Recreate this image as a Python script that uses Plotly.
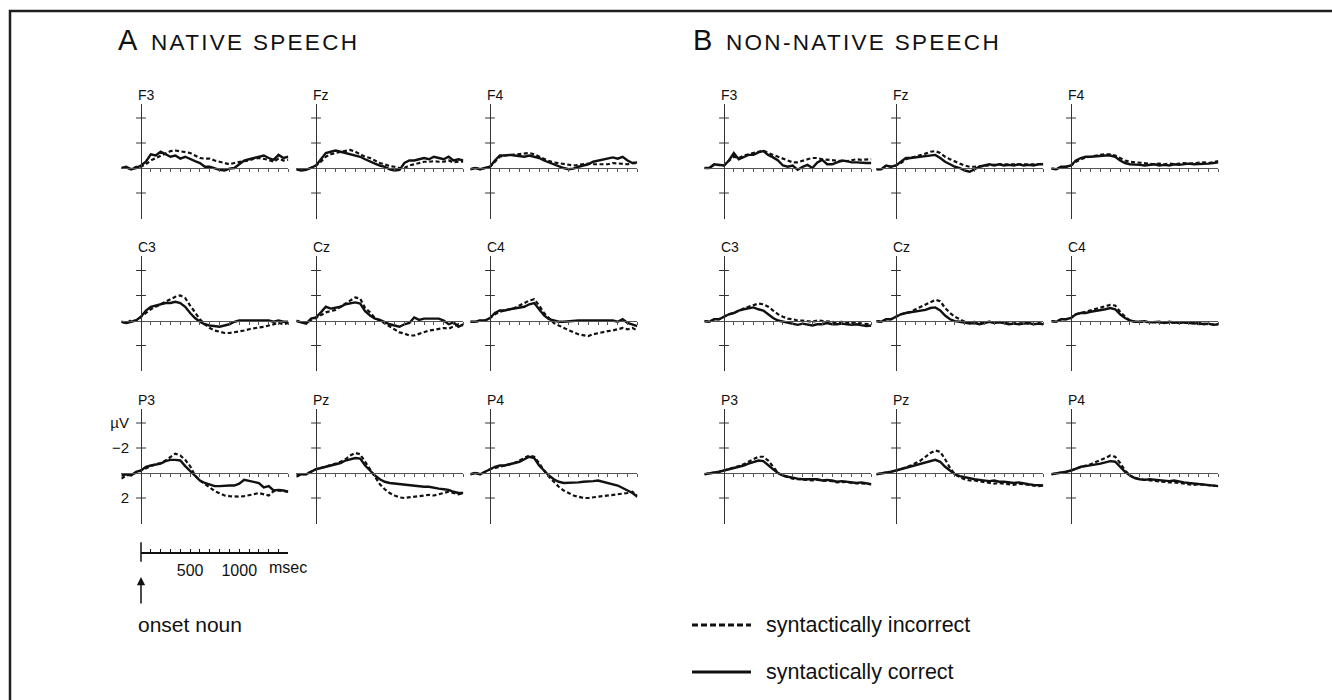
import plotly.graph_objects as go

# ---------------- data (µV, negative up) ----------------
TIME_MS = list(range(-200, 1501, 50))

ELECTRODES = [["F3", "Fz", "F4"], ["C3", "Cz", "C4"], ["P3", "Pz", "P4"]]
GROUP_TITLES = [("A", "NATIVE SPEECH"), ("B", "NON-NATIVE SPEECH")]
LEGEND_LABELS = ["syntactically incorrect", "syntactically correct"]
Y_TICKS = [-4, -2, 2]
Y_TICK_TEXT = ["µV", "−2", "2"]
X_TICKS = list(range(100, 1501, 100))
SCALE_TICKS = list(range(0, 1501, 100))
SCALE_LABELS = {500: "500", 1000: "1000"}

# native speech: correct (solid) / incorrect (dashed)
nat_F3_cor = [0, -0.1, 0.1, 0, -0.2, -0.5, -1.1, -1.0, -1.3, -1.1, -0.9, -1.0, -0.75, -0.9, -0.7, -0.55, -0.4, -0.1, -0.1, 0.05, 0.15, 0.2, 0.05, 0, -0.3, -0.6, -0.7, -0.8, -0.9, -1.0, -0.8, -0.65, -1.05, -0.8, -0.9]
nat_F3_inc = [0, 0, 0.1, -0.1, -0.1, -0.3, -0.6, -0.8, -1.0, -1.2, -1.35, -1.4, -1.35, -1.3, -1.2, -1.0, -0.8, -0.75, -0.75, -0.6, -0.5, -0.35, -0.3, -0.4, -0.5, -0.55, -0.6, -0.75, -0.8, -0.75, -0.65, -0.5, -0.75, -0.6, -0.65]
nat_Fz_cor = [0.1, 0.2, 0.15, 0, -0.2, -0.7, -1.2, -1.3, -1.4, -1.3, -1.2, -1.1, -1.0, -0.9, -0.7, -0.5, -0.35, -0.2, -0.1, 0.1, 0.2, 0.15, -0.4, -0.6, -0.6, -0.7, -0.8, -0.7, -0.9, -0.8, -0.7, -0.9, -0.6, -0.7, -0.6]
nat_Fz_inc = [0.1, 0.2, 0.1, 0, -0.2, -0.5, -0.9, -1.1, -1.2, -1.3, -1.35, -1.45, -1.3, -1.1, -0.9, -0.8, -0.6, -0.4, -0.3, -0.15, -0.1, 0, 0, -0.2, -0.3, -0.4, -0.5, -0.5, -0.55, -0.5, -0.5, -0.6, -0.45, -0.5, -0.5]
nat_F4_cor = [0.1, 0, 0.1, 0, -0.1, -0.6, -1.0, -1.0, -1.05, -1.0, -0.95, -0.9, -1.0, -0.9, -0.8, -0.6, -0.45, -0.3, -0.1, 0, 0.1, 0.05, -0.1, -0.2, -0.3, -0.5, -0.6, -0.7, -0.8, -0.85, -0.75, -0.9, -0.6, -0.4, -0.45]
nat_F4_inc = [0.1, 0, 0.1, 0, -0.1, -0.5, -0.9, -1.0, -1.05, -1.1, -1.1, -1.15, -1.2, -1.1, -0.9, -0.7, -0.55, -0.45, -0.4, -0.3, -0.25, -0.2, -0.25, -0.3, -0.35, -0.3, -0.3, -0.35, -0.3, -0.4, -0.35, -0.3, -0.3, -0.4, -0.35]
nat_C3_cor = [0.1, 0.2, 0.1, 0, -0.3, -0.8, -1.1, -1.2, -1.3, -1.4, -1.4, -1.5, -1.4, -1.1, -0.6, -0.2, 0.1, 0.3, 0.4, 0.45, 0.5, 0.4, 0.3, 0.1, 0, 0, 0, 0, 0.05, 0, 0, 0.1, 0, 0.1, 0.1]
nat_C3_inc = [0.1, 0.2, 0, 0, -0.3, -0.6, -0.9, -1.1, -1.3, -1.5, -1.7, -1.9, -2.0, -1.8, -1.2, -0.6, -0.1, 0.3, 0.6, 0.8, 0.9, 1.0, 1.0, 0.95, 0.9, 0.8, 0.7, 0.6, 0.55, 0.5, 0.4, 0.3, 0.2, 0.3, 0.2]
nat_Cz_cor = [0.05, 0.15, 0.25, -0.15, -0.25, -0.65, -1.1, -0.95, -1.0, -1.1, -1.3, -1.4, -1.45, -1.35, -0.75, -0.4, -0.15, -0.05, 0.15, 0.3, 0.4, 0.5, 0.3, 0.2, -0.25, -0.05, -0.15, -0.15, -0.15, -0.15, 0, 0.3, 0.15, 0.5, 0.3]
nat_Cz_inc = [0, 0.15, 0.2, -0.05, -0.2, -0.4, -0.65, -0.75, -0.85, -1.1, -1.35, -1.65, -1.85, -1.75, -1.0, -0.65, -0.2, 0, 0.25, 0.5, 0.75, 0.95, 1.05, 1.2, 1.2, 1.05, 0.95, 0.8, 0.75, 0.65, 0.6, 0.65, 0.5, 0.3, 0.4]
nat_C4_cor = [0.1, 0.1, 0, 0, -0.2, -0.6, -0.8, -0.8, -0.9, -0.95, -1.0, -1.1, -1.3, -1.4, -0.9, -0.4, -0.1, 0, 0.1, 0.1, 0.05, 0, 0, 0, 0, 0, 0, 0.05, 0, 0, 0.1, -0.1, 0.2, 0.3, 0.45]
nat_C4_inc = [0.1, 0.1, 0, 0, -0.2, -0.5, -0.7, -0.8, -0.9, -1.0, -1.2, -1.4, -1.6, -1.7, -1.2, -0.6, -0.2, 0.2, 0.4, 0.6, 0.8, 0.95, 1.1, 1.2, 1.25, 1.1, 1.0, 0.95, 0.85, 0.8, 0.7, 0.6, 0.7, 0.6, 0.8]
nat_P3_cor = [0.2, 0.1, 0.2, -0.1, -0.2, -0.5, -0.6, -0.7, -0.75, -0.95, -1.05, -1.05, -1.0, -0.55, -0.15, 0.2, 0.6, 0.8, 0.9, 1.05, 1.05, 1.0, 1.0, 1.0, 0.85, 0.55, 0.65, 0.7, 0.8, 1.15, 1.05, 1.4, 1.35, 1.4, 1.5]
nat_P3_inc = [0.45, 0.2, 0.1, 0, -0.2, -0.4, -0.55, -0.7, -0.8, -1.0, -1.3, -1.55, -1.4, -1.05, -0.55, 0.2, 0.6, 0.85, 1.15, 1.45, 1.6, 1.8, 1.85, 1.9, 1.9, 1.85, 1.8, 1.7, 1.6, 1.7, 1.8, 1.45, 1.4, 1.45, 1.5]
nat_Pz_cor = [0.2, 0.1, 0.1, -0.1, -0.3, -0.4, -0.5, -0.6, -0.7, -0.8, -1.0, -1.1, -1.2, -1.15, -0.6, -0.2, 0.2, 0.5, 0.7, 0.8, 0.85, 0.9, 0.9, 1.0, 1.0, 1.05, 1.1, 1.1, 1.2, 1.25, 1.3, 1.35, 1.5, 1.6, 1.6]
nat_Pz_inc = [0.3, 0.1, 0.1, -0.1, -0.3, -0.4, -0.5, -0.6, -0.75, -0.9, -1.1, -1.4, -1.6, -1.5, -0.9, -0.2, 0.4, 0.9, 1.3, 1.6, 1.8, 1.95, 2.0, 1.95, 1.9, 1.85, 1.8, 1.75, 1.8, 1.7, 1.6, 1.5, 1.6, 1.7, 1.6]
nat_P4_cor = [0.1, 0, 0.1, -0.1, -0.3, -0.5, -0.6, -0.6, -0.7, -0.8, -0.9, -1.1, -1.3, -1.2, -0.6, -0.2, 0.2, 0.5, 0.7, 0.8, 0.8, 0.8, 0.75, 0.7, 0.7, 0.65, 0.6, 0.7, 0.8, 0.9, 1.0, 1.2, 1.4, 1.6, 1.9]
nat_P4_inc = [0.1, 0, 0.1, -0.1, -0.3, -0.4, -0.5, -0.6, -0.7, -0.8, -1.0, -1.2, -1.4, -1.3, -0.8, -0.2, 0.3, 0.7, 1.1, 1.4, 1.6, 1.8, 1.9, 2.0, 2.0, 1.95, 1.9, 1.85, 1.8, 1.75, 1.7, 1.7, 1.6, 1.5, 1.8]

# non-native speech
non_F3_cor = [0, 0, -0.3, -0.25, -0.2, -0.6, -1.2, -0.7, -0.9, -1.05, -1.05, -1.25, -1.35, -1.05, -0.85, -0.6, -0.2, -0.1, -0.2, 0.15, -0.1, -0.25, 0, -0.45, -0.65, -0.3, -0.3, -0.45, -0.6, -0.55, -0.45, -0.45, -0.4, -0.4, -0.4]
non_F3_inc = [0, 0, -0.25, -0.25, -0.2, -0.6, -0.9, -0.8, -1.0, -1.1, -1.2, -1.35, -1.4, -1.2, -1.05, -0.85, -0.7, -0.6, -0.45, -0.45, -0.6, -0.7, -0.8, -0.8, -0.7, -0.65, -0.6, -0.6, -0.55, -0.55, -0.6, -0.7, -0.65, -0.7, -0.7]
non_Fz_cor = [0.1, 0.1, -0.2, -0.1, -0.2, -0.5, -0.8, -0.8, -0.85, -0.9, -0.95, -1.0, -1.05, -0.8, -0.5, -0.3, -0.1, 0, 0.2, 0.3, 0.1, -0.1, -0.2, -0.3, -0.2, -0.3, -0.2, -0.25, -0.2, -0.3, -0.2, -0.25, -0.2, -0.3, -0.3]
non_Fz_inc = [0.1, 0.1, -0.2, -0.1, -0.2, -0.4, -0.7, -0.8, -0.9, -1.0, -1.15, -1.3, -1.35, -1.2, -0.9, -0.7, -0.5, -0.35, -0.2, -0.1, -0.1, -0.15, -0.2, -0.2, -0.25, -0.3, -0.3, -0.3, -0.25, -0.3, -0.3, -0.3, -0.25, -0.3, -0.35]
non_F4_cor = [0.05, 0.1, -0.1, -0.1, -0.2, -0.6, -0.8, -0.9, -0.9, -0.95, -1.0, -1.0, -1.0, -0.9, -0.6, -0.4, -0.3, -0.3, -0.25, -0.2, -0.25, -0.3, -0.2, -0.25, -0.2, -0.3, -0.25, -0.3, -0.35, -0.3, -0.3, -0.35, -0.35, -0.4, -0.45]
non_F4_inc = [0.05, 0.1, -0.1, -0.1, -0.2, -0.5, -0.7, -0.85, -0.9, -1.0, -1.05, -1.1, -1.1, -1.0, -0.8, -0.6, -0.5, -0.45, -0.4, -0.35, -0.3, -0.3, -0.35, -0.3, -0.35, -0.3, -0.35, -0.4, -0.35, -0.4, -0.4, -0.45, -0.4, -0.5, -0.55]
non_C3_cor = [0.05, 0.1, -0.1, -0.1, -0.3, -0.5, -0.6, -0.8, -0.9, -1.0, -1.05, -0.9, -0.8, -0.5, -0.2, 0, 0.1, 0.2, 0.3, 0.35, 0.25, 0.3, 0.4, 0.3, 0.3, 0.2, 0.3, 0.3, 0.25, 0.3, 0.35, 0.3, 0.4, 0.45, 0.4]
non_C3_inc = [0.05, 0.1, -0.1, -0.1, -0.3, -0.5, -0.6, -0.8, -0.95, -1.1, -1.25, -1.35, -1.3, -1.1, -0.8, -0.5, -0.3, -0.15, -0.1, 0, 0, 0.05, 0.1, 0, 0.05, 0.1, 0.1, 0.15, 0.1, 0.2, 0.2, 0.15, 0.25, 0.3, 0.3]
non_Cz_cor = [0.05, 0.1, -0.1, -0.1, -0.3, -0.5, -0.6, -0.65, -0.7, -0.8, -0.85, -1.0, -1.05, -0.8, -0.4, -0.1, 0.05, 0.1, 0.2, 0.25, 0.2, 0.3, 0.2, 0.1, 0.2, 0.15, 0.2, 0.3, 0.25, 0.3, 0.25, 0.2, 0.3, 0.25, 0.3]
non_Cz_inc = [0.05, 0.1, -0.1, -0.1, -0.3, -0.5, -0.6, -0.7, -0.9, -1.1, -1.3, -1.5, -1.65, -1.55, -1.0, -0.6, -0.3, -0.1, 0.1, 0.15, 0.1, 0.2, 0.15, 0.1, 0.15, 0.1, 0.2, 0.25, 0.2, 0.25, 0.2, 0.25, 0.3, 0.2, 0.3]
non_C4_cor = [0.05, 0.1, -0.1, -0.1, -0.2, -0.5, -0.6, -0.6, -0.7, -0.75, -0.8, -0.9, -1.0, -0.9, -0.5, -0.2, 0, 0.1, 0.1, 0.05, 0.15, 0.1, 0.1, 0.2, 0.1, 0.15, 0.2, 0.15, 0.2, 0.25, 0.2, 0.3, 0.25, 0.35, 0.3]
non_C4_inc = [0.05, 0.1, -0.1, -0.1, -0.2, -0.5, -0.6, -0.7, -0.8, -0.9, -1.0, -1.1, -1.25, -1.2, -0.7, -0.3, 0, 0.1, 0.1, 0.1, 0.15, 0.1, 0.15, 0.2, 0.15, 0.2, 0.2, 0.2, 0.25, 0.2, 0.3, 0.25, 0.3, 0.3, 0.3]
non_P3_cor = [0.1, 0.05, 0, -0.1, -0.2, -0.3, -0.35, -0.5, -0.6, -0.75, -0.85, -1.0, -0.95, -0.6, -0.3, 0, 0.2, 0.3, 0.4, 0.45, 0.5, 0.5, 0.55, 0.5, 0.6, 0.55, 0.6, 0.7, 0.65, 0.7, 0.75, 0.8, 0.75, 0.85, 0.9]
non_P3_inc = [0.1, 0.05, 0, -0.1, -0.2, -0.3, -0.4, -0.55, -0.7, -0.9, -1.1, -1.3, -1.3, -1.0, -0.5, 0, 0.2, 0.35, 0.45, 0.5, 0.5, 0.55, 0.6, 0.55, 0.6, 0.6, 0.65, 0.75, 0.7, 0.7, 0.8, 0.8, 0.8, 0.85, 0.9]
non_Pz_cor = [0.1, 0.05, 0, -0.1, -0.2, -0.3, -0.4, -0.5, -0.6, -0.7, -0.8, -0.95, -1.05, -0.9, -0.5, -0.2, 0.1, 0.25, 0.35, 0.45, 0.5, 0.55, 0.6, 0.65, 0.6, 0.7, 0.7, 0.75, 0.8, 0.75, 0.85, 0.9, 0.95, 1.0, 1.0]
non_Pz_inc = [0.1, 0.05, 0, -0.1, -0.2, -0.3, -0.45, -0.6, -0.8, -1.0, -1.3, -1.6, -1.8, -1.7, -1.1, -0.4, 0.1, 0.35, 0.5, 0.6, 0.6, 0.65, 0.75, 0.8, 0.85, 0.8, 0.85, 0.9, 0.95, 0.85, 0.9, 0.95, 1.0, 1.05, 1.0]
non_P4_cor = [0.1, 0.05, 0, -0.1, -0.2, -0.35, -0.5, -0.55, -0.6, -0.7, -0.75, -0.85, -0.95, -0.9, -0.5, -0.1, 0.2, 0.4, 0.5, 0.55, 0.5, 0.55, 0.6, 0.6, 0.65, 0.6, 0.7, 0.75, 0.8, 0.85, 0.85, 0.95, 1.0, 1.0, 1.05]
non_P4_inc = [0.1, 0.05, 0, -0.1, -0.2, -0.35, -0.5, -0.6, -0.7, -0.85, -1.0, -1.2, -1.4, -1.3, -0.8, -0.2, 0.2, 0.4, 0.5, 0.55, 0.6, 0.6, 0.65, 0.7, 0.75, 0.75, 0.8, 0.85, 0.9, 0.95, 0.9, 0.95, 1.0, 1.05, 1.05]

DATA = {
    ("nat", "F3"): (nat_F3_cor, nat_F3_inc), ("nat", "Fz"): (nat_Fz_cor, nat_Fz_inc), ("nat", "F4"): (nat_F4_cor, nat_F4_inc),
    ("nat", "C3"): (nat_C3_cor, nat_C3_inc), ("nat", "Cz"): (nat_Cz_cor, nat_Cz_inc), ("nat", "C4"): (nat_C4_cor, nat_C4_inc),
    ("nat", "P3"): (nat_P3_cor, nat_P3_inc), ("nat", "Pz"): (nat_Pz_cor, nat_Pz_inc), ("nat", "P4"): (nat_P4_cor, nat_P4_inc),
    ("non", "F3"): (non_F3_cor, non_F3_inc), ("non", "Fz"): (non_Fz_cor, non_Fz_inc), ("non", "F4"): (non_F4_cor, non_F4_inc),
    ("non", "C3"): (non_C3_cor, non_C3_inc), ("non", "Cz"): (non_Cz_cor, non_Cz_inc), ("non", "C4"): (non_C4_cor, non_C4_inc),
    ("non", "P3"): (non_P3_cor, non_P3_inc), ("non", "Pz"): (non_Pz_cor, non_Pz_inc), ("non", "P4"): (non_P4_cor, non_P4_inc),
}

# ---------------- layout (pixels) ----------------
W, H = 1332, 700
FONT = "Liberation Sans, Arial, Helvetica, sans-serif"
INK = "#111111"
AXC = "#555555"
T_MIN, T_MAX = -200, 1500
Y_TOP, Y_BOT = -5.15, 4.05          # µV at top / bottom of each vertical axis
PX_PER_MS = 167 / 1700
PX_PER_UV = 12.5
GROUP_COL_ZERO_X = {"nat": [141, 316, 490], "non": [724, 896, 1071]}
ROW_ZERO_Y = [168, 320.5, 473]
GROUP_TITLE_X = {"nat": 116, "non": 691}
TITLE_Y = 40
SCALE_Y = 552


def px_x(p):
    return p / W


def px_y(p):
    return 1 - p / H


fig = go.Figure()
layout = {}
annotations = []
k = 0
for g in ["nat", "non"]:
    for r in range(3):
        for c in range(3):
            k += 1
            name = ELECTRODES[r][c]
            zx = GROUP_COL_ZERO_X[g][c]
            zy = ROW_ZERO_Y[r]
            xd = [px_x(zx + T_MIN * PX_PER_MS), px_x(zx + T_MAX * PX_PER_MS)]
            yd = [px_y(zy + Y_BOT * PX_PER_UV), px_y(zy + Y_TOP * PX_PER_UV)]
            xs = "" if k == 1 else str(k)
            show_lab = (g == "nat" and name == "P3")
            layout["xaxis" + xs] = dict(
                domain=xd, range=[T_MIN, T_MAX], anchor="free", position=px_y(zy),
                showline=True, linecolor=AXC, linewidth=1, ticks="outside", ticklen=3,
                tickwidth=1, tickcolor=AXC, tickvals=X_TICKS, showticklabels=False,
                showgrid=False, zeroline=False, fixedrange=True)
            layout["yaxis" + xs] = dict(
                domain=yd, range=[Y_BOT, Y_TOP], anchor="free", position=px_x(zx),
                showline=True, linecolor="#333333", linewidth=1, ticks="",
                tickvals=Y_TICKS, ticktext=Y_TICK_TEXT, showticklabels=show_lab,
                ticklabelstandoff=9, tickfont=dict(family=FONT, size=15, color=INK),
                showgrid=False, zeroline=False, fixedrange=True)
            xa, ya = "x" + xs, "y" + xs
            cor, inc = DATA[(g, name)]
            fig.add_trace(go.Scatter(
                x=[0] * len(Y_TICKS), y=Y_TICKS, xaxis=xa, yaxis=ya, mode="markers",
                marker=dict(symbol="line-ew", size=7, line=dict(width=1, color="#333333")),
                cliponaxis=False, hoverinfo="skip", showlegend=False))
            fig.add_trace(go.Scatter(
                x=TIME_MS, y=inc, xaxis=xa, yaxis=ya, mode="lines", name=LEGEND_LABELS[0],
                line=dict(color=INK, width=2.2, dash="4px,2.5px"), cliponaxis=False, showlegend=False))
            fig.add_trace(go.Scatter(
                x=TIME_MS, y=cor, xaxis=xa, yaxis=ya, mode="lines", name=LEGEND_LABELS[1],
                line=dict(color=INK, width=2.4), cliponaxis=False, showlegend=False))
            annotations.append(dict(
                text=name, xref=xa, yref=ya + " domain", x=0, y=1, xanchor="left", yanchor="bottom",
                xshift=-5, yshift=-1, showarrow=False, font=dict(family=FONT, size=14, color=INK)))

# group titles
for (letter, rest), g in zip(GROUP_TITLES, ["nat", "non"]):
    annotations.append(dict(
        text=letter, xref="paper", yref="paper", x=px_x(GROUP_TITLE_X[g]), y=px_y(TITLE_Y),
        xanchor="left", yanchor="middle", showarrow=False,
        font=dict(family=FONT, size=29, color=INK)))
    annotations.append(dict(
        text='<span style="letter-spacing:2.3px">' + rest + "</span>", xref="paper", yref="paper",
        x=px_x(GROUP_TITLE_X[g] + 33), y=px_y(TITLE_Y + 2), xanchor="left", yanchor="middle",
        showarrow=False, font=dict(family=FONT, size=22.5, color=INK)))

# time scale bar (axis 19) under the native P3 panel
zx0 = GROUP_COL_ZERO_X["nat"][0]
layout["xaxis19"] = dict(
    domain=[px_x(zx0), px_x(zx0 + T_MAX * PX_PER_MS)], range=[0, T_MAX], anchor="y19",
    showline=True, linecolor=INK, linewidth=1.5, ticks="inside", ticklen=3, tickwidth=1,
    tickcolor=INK, tickvals=SCALE_TICKS, ticktext=[SCALE_LABELS.get(t, "") for t in SCALE_TICKS],
    ticklabelstandoff=3, tickfont=dict(family=FONT, size=16, color=INK),
    showgrid=False, zeroline=False, fixedrange=True)
layout["yaxis19"] = dict(domain=[px_y(SCALE_Y), px_y(SCALE_Y - 12)], range=[0, 1], anchor="x19",
                         visible=False, fixedrange=True)
fig.add_trace(go.Scatter(x=[0], y=[0], xaxis="x19", yaxis="y19", mode="markers",
                         marker=dict(symbol="line-ns", size=14, line=dict(width=1.5, color=INK)),
                         cliponaxis=False, hoverinfo="skip", showlegend=False))
annotations.append(dict(text="msec", xref="x19", yref="paper", x=1285, y=px_y(SCALE_Y + 15),
                        xanchor="left", yanchor="middle", showarrow=False,
                        font=dict(family=FONT, size=16, color=INK)))
annotations.append(dict(text="", xref="x19", yref="paper", x=0, y=px_y(577), ax=0, ay=28,
                        showarrow=True, arrowhead=2, arrowsize=1.1, arrowwidth=1.5, arrowcolor=INK))
annotations.append(dict(text="onset noun", xref="x19", yref="paper", x=0, y=px_y(624),
                        xanchor="left", yanchor="middle", xshift=-5, showarrow=False,
                        font=dict(family=FONT, size=21, color=INK)))

# legend (drawn as swatches + labels)
shapes = []
LEG_X0, LEG_X1, LEG_TX = 692, 751, 764
for i, (lab, yy) in enumerate(zip(LEGEND_LABELS, [625, 672])):
    shapes.append(dict(type="line", xref="paper", yref="paper", x0=px_x(LEG_X0), x1=px_x(LEG_X1),
                       y0=px_y(yy), y1=px_y(yy),
                       line=dict(color=INK, width=3, dash="6px,3px" if i == 0 else "solid")))
    annotations.append(dict(text=lab, xref="paper", yref="paper", x=px_x(LEG_TX), y=px_y(yy),
                            xanchor="left", yanchor="middle", showarrow=False,
                            font=dict(family=FONT, size=21.5, color=INK)))

# frame (open to the right / bottom)
shapes.append(dict(type="rect", xref="paper", yref="paper", x0=px_x(10), x1=1.05, y0=-0.05,
                   y1=px_y(11), line=dict(color="#1e1e1e", width=2.5)))

fig.update_layout(
    width=W, height=H, margin=dict(l=0, r=0, t=0, b=0), autosize=False,
    paper_bgcolor="white", plot_bgcolor="white", showlegend=False,
    annotations=annotations, shapes=shapes, **layout)

fig.write_html("out.html", config={"displayModeBar": False},
               post_script="document.body.style.margin='0';document.body.style.overflow='hidden';")
